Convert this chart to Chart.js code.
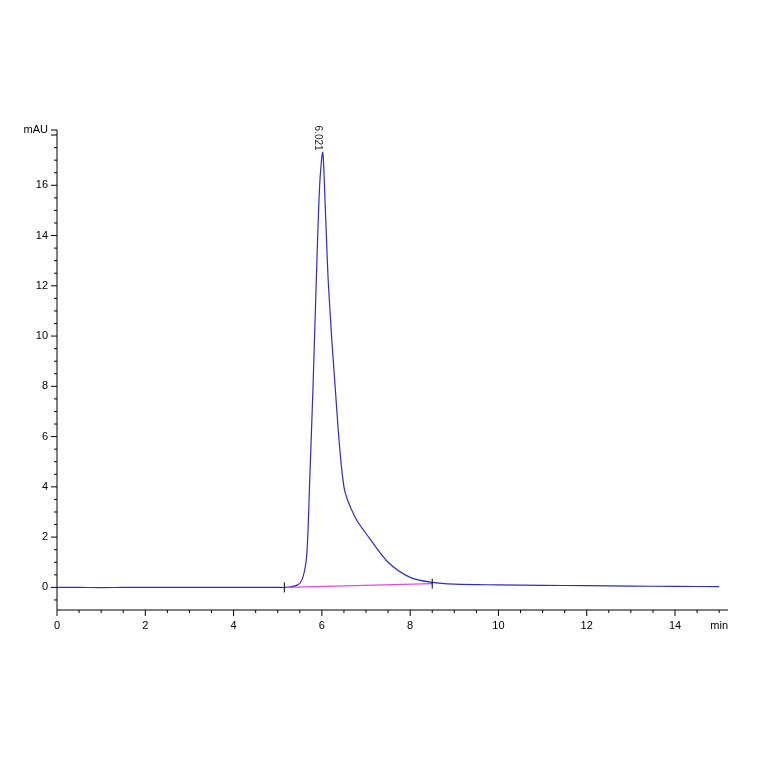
<!DOCTYPE html><html><head><script src="https://cdn.jsdelivr.net/npm/chart.js@4"></script>
<style>html,body{margin:0;background:#fff}#w{width:764px;height:764px}</style></head><body><div id="w"><canvas id="c"></canvas></div>
<script>
const timeMin=[0,0.5,1,1.5,2,2.5,3,3.5,4,4.5,5,5.2,5.45,5.55,5.64,5.68,5.72,5.8,5.87,5.95,6.02,6.08,6.15,6.3,6.5,6.75,7.06,7.5,8.0,8.5,9,10,11,12,13,14,15];
const signal=[0,0,-0.01,0,0,0,0,0,0,0,0,0,0.1,0.3,1,2,4,8,12,16,17.3,15,12,8,4,2.8,2,1,0.4,0.2,0.13,0.1,0.08,0.07,0.05,0.04,0.03];
const baseT=[5.2,8.5], baseV=[0,0.15];
const yTicks=[0,2,4,6,8,10,12,14,16], xTicks=[0,2,4,6,8,10,12,14];
const peakT=6.02, peakV=17.3, peakLabel='6.021';
const YMAX=18.2, XMAX=15.2;
const deco={id:'deco',afterDraw(ch){const c=ch.ctx,x=ch.scales.x,y=ch.scales.y;c.save();c.strokeStyle='#000';c.lineWidth=1;
c.beginPath();c.moveTo(x.left,y.top);c.lineTo(x.left,y.bottom);c.moveTo(x.left,y.bottom);c.lineTo(x.right,y.bottom);c.stroke();
c.beginPath();for(let v=-0.5;v<=18;v+=0.5){const p=y.getPixelForValue(v);const L=(v%2===0)?6:3;c.moveTo(x.left-L,p);c.lineTo(x.left+(v%2===0?0:0),p);}
c.moveTo(x.left-6,y.top);c.lineTo(x.left,y.top);
for(let v=0;v<=15;v+=0.5){const p=x.getPixelForValue(v);const L=(v%2===0)?6:3;c.moveTo(p,y.bottom);c.lineTo(p,y.bottom+L);}
[5.15,8.5].forEach((t,i)=>{const p=x.getPixelForValue(t),q=y.getPixelForValue(baseV[i]);c.moveTo(p,q-5);c.lineTo(p,q+5);});
c.stroke();
c.fillStyle='#000';c.font='11px "Liberation Sans"';c.textAlign='right';c.textBaseline='middle';
yTicks.forEach(v=>c.fillText(String(v),x.left-9,y.getPixelForValue(v)));c.fillText('mAU',x.left-9,y.top);
c.textAlign='center';c.textBaseline='top';xTicks.forEach(v=>c.fillText(String(v),x.getPixelForValue(v),y.bottom+10));
c.fillText('min',x.getPixelForValue(15),y.bottom+10);
c.translate(x.getPixelForValue(peakT),y.getPixelForValue(peakV)-2);c.rotate(Math.PI/2);c.textAlign='right';c.fillStyle='#223';c.font='10px "Liberation Sans"';c.fillText(peakLabel,0,0);
c.restore();}};
new Chart(document.getElementById('c'),{type:'scatter',data:{datasets:[
{data:baseT.map((t,i)=>({x:t,y:baseV[i]})),showLine:true,borderColor:'#ee44dd',borderWidth:1.3,pointRadius:0},
{data:timeMin.map((t,i)=>({x:t,y:signal[i]})),showLine:true,borderColor:'#2b2bd0',borderWidth:1.2,pointRadius:0,tension:0.3}]},
options:{responsive:true,maintainAspectRatio:false,animation:false,layout:{padding:{left:0,right:36,top:130,bottom:124}},
plugins:{legend:{display:false},tooltip:{enabled:false}},
scales:{x:{type:'linear',min:0,max:XMAX,grid:{display:false},border:{display:false},ticks:{display:false},afterFit(s){s.height=30;}},
y:{type:'linear',min:-0.9,max:YMAX,grid:{display:false},border:{display:false},ticks:{display:false},afterFit(s){s.width=57;}}}},plugins:[deco]});
</script></body></html>
